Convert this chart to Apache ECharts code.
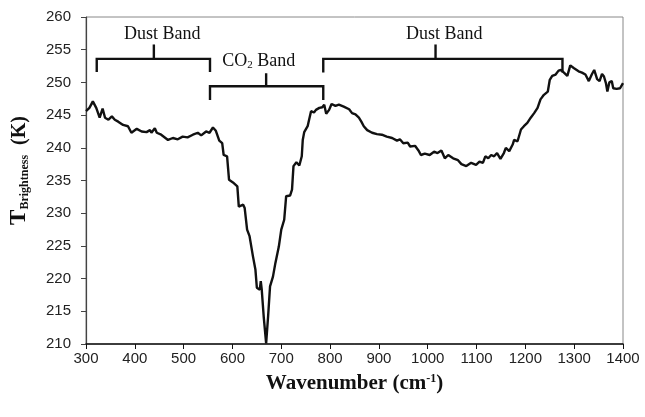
<!DOCTYPE html>
<html>
<head>
<meta charset="utf-8">
<script src="https://cdn.jsdelivr.net/npm/echarts@6/dist/echarts.min.js"></script>
<style>html,body{margin:0;padding:0;background:#fff;}#c{width:645px;height:417px;}</style>
</head>
<body>
<div id="c"></div>
<script>
const wavenumber = [300,307,314,321,328,334,339,346,353,359,366,376,386,393,404,414,424,431,434,441,445,454,468,478,488,498,508,519,529,536,546,553,560,566,573,579,582,589,593,601,610,613,622,625,630,635,642,647,650,656,658,660,664,669,671,673,677,683,688,695,700,706,710,718,722,725,731,737,742,744,747,754,757,761,767,771,778,784,788,792,798,803,811,818,828,839,845,852,859,864,869,876,886,896,906,916,927,937,943,950,959,964,974,981,986,994,1004,1013,1020,1028,1035,1042,1052,1062,1069,1079,1089,1099,1106,1113,1118,1124,1130,1136,1142,1149,1156,1160,1167,1174,1177,1184,1191,1197,1204,1211,1218,1225,1231,1238,1246,1250,1255,1262,1268,1273,1279,1286,1292,1299,1302,1309,1316,1323,1330,1336,1341,1347,1352,1357,1361,1365,1368,1372,1377,1380,1387,1394,1400];
const brightness = [245.6,246.1,247.1,246.1,244.6,246.0,244.6,244.3,244.8,244.3,244.0,243.5,243.3,242.3,242.9,242.5,242.4,242.7,242.3,243.0,242.3,242.0,241.2,241.5,241.3,241.7,241.6,242.0,242.3,241.9,242.5,242.3,243.1,242.6,241.1,240.7,238.9,238.7,235.1,234.7,234.1,231.0,231.3,230.8,227.5,226.5,223.4,221.4,218.6,218.3,219.6,218.3,214.2,210.1,210.1,214.2,218.8,220.3,222.4,224.9,227.5,229.0,232.6,232.7,233.6,237.2,237.8,237.3,238.7,241.2,242.4,243.3,244.3,245.6,245.4,245.8,246.1,246.2,246.6,245.2,245.8,246.7,246.4,246.6,246.3,245.9,245.3,245.1,244.6,244.0,243.3,242.7,242.3,242.1,242.0,241.7,241.5,241.1,241.3,240.7,240.8,240.2,240.3,239.6,238.9,239.1,238.9,239.4,239.2,239.6,238.4,238.9,238.4,238.1,237.5,237.2,237.7,237.4,237.9,237.7,238.7,238.4,238.9,238.7,239.2,238.3,239.2,240.0,239.5,240.5,241.2,241.0,242.8,243.3,243.8,244.6,245.3,246.1,247.4,248.1,248.6,250.4,251.0,251.2,251.8,251.9,251.5,251.0,252.6,252.2,252.4,251.7,251.5,251.2,250.2,251.2,251.9,250.5,250.2,251.3,250.9,249.9,248.6,250.0,250.2,249.1,249.0,249.1,249.9];

// Band brackets (data units)
const bandLabels = ['{a|Dust Band}', '{a|CO}{s|2}{a| Band}', '{a|Dust Band}'];
const bandStart = [322, 554, 786];
const bandEnd = [554, 786, 1276];
const bandLevel = [253.6, 249.4, 253.6];
const bandFoot = [251.6, 247.3, 251.5];
const bandTickX = [439, 669, 1016];
const bandTickTop = [255.8, 251.4, 255.8];
const bandLabelX = [456, 654, 1034];
const bandLabelY = [257.4, 253.2, 257.4];

const xTicks = {min: 300, max: 1400, step: 100};
const yTicks = {min: 210, max: 260, step: 5};

const chart = echarts.init(document.getElementById('c'), null, {renderer: 'canvas'});
const serif = '"Liberation Serif", "Times New Roman", serif';
const sans = '"Liberation Sans", Arial, sans-serif';

const bandData = bandStart.map((s, i) => [s, bandEnd[i], bandLevel[i], bandFoot[i], bandTickX[i], bandTickTop[i], bandLabelX[i], bandLabelY[i]]);

chart.setOption({
  animation: false,
  backgroundColor: '#fff',
  grid: {left: 82, right: 22, top: 17, bottom: 73, show: true, borderColor: '#888', borderWidth: 1},
  xAxis: {
    type: 'value', min: xTicks.min, max: xTicks.max, interval: xTicks.step,
    splitLine: {show: false},
    axisLine: {onZero: false, lineStyle: {color: '#111', width: 1.5}},
    axisTick: {show: true, inside: false, length: 5, lineStyle: {color: '#111'}},
    axisLabel: {color: '#222', fontFamily: sans, fontSize: 15, margin: 7, formatter: v => String(v)},
    name: '{a|Wavenumber (cm}{s|-1}{a|)}',
    nameLocation: 'middle', nameGap: 29,
    nameTextStyle: {
      rich: {
        a: {fontFamily: serif, fontWeight: 'bold', fontSize: 21, color: '#111'},
        s: {fontFamily: serif, fontWeight: 'bold', fontSize: 12, color: '#111', verticalAlign: 'top', padding: [0, 0, 8, 0]}
      }
    }
  },
  yAxis: {
    type: 'value', min: yTicks.min, max: yTicks.max, interval: yTicks.step,
    splitLine: {show: false},
    axisLine: {show: true, lineStyle: {color: '#444', width: 1.2}},
    axisTick: {show: true, inside: false, length: 5, lineStyle: {color: '#444'}},
    axisLabel: {color: '#222', fontFamily: sans, fontSize: 15, margin: 15, formatter: v => String(v)},
    name: '{t|T}{b|Brightness}{k|  (K)}',
    nameLocation: 'middle', nameGap: 55, nameRotate: 90,
    nameTextStyle: {
      padding: [0, 0, 0, 20],
      rich: {
        t: {fontFamily: serif, fontWeight: 'bold', fontSize: 23, color: '#111'},
        b: {fontFamily: serif, fontWeight: 'bold', fontSize: 12, color: '#111', verticalAlign: 'bottom', padding: [8, 0, 0, 0]},
        k: {fontFamily: serif, fontWeight: 'bold', fontSize: 20, color: '#111'}
      }
    }
  },
  series: [
    {
      type: 'line',
      data: wavenumber.map((w, i) => [w, brightness[i]]),
      showSymbol: false,
      lineStyle: {color: '#111', width: 2.4},
      clip: true,
      z: 3
    },
    {
      type: 'custom',
      coordinateSystem: 'cartesian2d',
      clip: false,
      data: bandData,
      renderItem: function (params, api) {
        const x1 = api.value(0), x2 = api.value(1), lev = api.value(2), foot = api.value(3);
        const tx = api.value(4), tt = api.value(5), lx = api.value(6), ly = api.value(7);
        const a = api.coord([x1, foot]), b = api.coord([x1, lev]), c = api.coord([x2, lev]), d = api.coord([x2, foot]);
        const t1 = api.coord([tx, lev]), t2 = api.coord([tx, tt]);
        const lp = api.coord([lx, ly]);
        const ls = {stroke: '#111', lineWidth: 2.4, fill: null};
        return {
          type: 'group',
          children: [
            {type: 'polyline', shape: {points: [a, b, c, d]}, style: ls},
            {type: 'line', shape: {x1: t1[0], y1: t1[1], x2: t2[0], y2: t2[1]}, style: ls},
            {type: 'text', x: lp[0], y: lp[1], style: {
              text: bandLabels[params.dataIndex], align: 'center', verticalAlign: 'middle',
              rich: {
                a: {fontFamily: serif, fontSize: 18, fill: '#111'},
                s: {fontFamily: serif, fontSize: 11, fill: '#111', verticalAlign: 'bottom', padding: [6, 0, 0, 0]}
              }
            }}
          ]
        };
      },
      z: 4
    }
  ]
});
</script>
</body>
</html>
